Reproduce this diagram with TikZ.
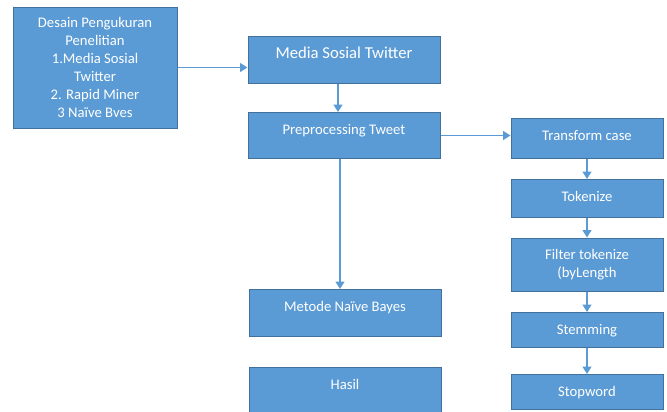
\documentclass[tikz,border=0pt]{standalone}
\usepackage{fontspec}
\setmainfont{Carlito}
\usetikzlibrary{arrows.meta}

\definecolor{boxfill}{HTML}{5B9BD5}
\definecolor{boxline}{HTML}{41719C}

\tikzset{
  box/.style={draw=boxline, line width=0.75pt, fill=boxfill, text=white,
    inner xsep=0pt, inner ysep=0pt, anchor=north, text height=16.5pt,
    font=\fontsize{11}{13.5}\selectfont},
  mbox/.style={draw=boxline, line width=0.75pt, fill=boxfill, text=white,
    inner sep=0pt, align=center, font=\fontsize{11}{13.5}\selectfont},
  flow/.style={draw=boxfill, line width=1.3pt, -{Triangle[length=5.5pt,width=6.5pt]}}
}

\begin{document}
\begin{tikzpicture}[x=0.75pt, y=-0.75pt]

\def\lw{144pt}
\def\rw{114pt}

\path [use as bounding box] (0,0) rectangle (667,411);

% LEFT
\node [mbox, minimum width=123pt, minimum height=90.75pt] (desain) at (95,67.5)
  {Desain Pengukuran\\Penelitian\\1.Media Sosial\\Twitter\\2. Rapid Miner\\3 Naïve Bves};

% MIDDLE
\node [box, minimum width=\lw, text depth=18.75pt, font=\fontsize{12.5}{15}\selectfont] (media) at (344,36) {Media Sosial Twitter};
\node [box, minimum width=\lw, text depth=18pt] (prep) at (344,112) {Preprocessing Tweet};
\node [box, minimum width=\lw, text depth=18.75pt] (metode) at (345,289) {Metode Naïve Bayes};
\node [box, minimum width=\lw, text depth=18.75pt] (hasil) at (345,367) {Hasil};

% RIGHT
\node [box, minimum width=\rw, text depth=13.5pt] (trans) at (587,118) {Transform case};
\node [box, minimum width=\rw, text depth=12pt] (token) at (587,179) {Tokenize};
\node [mbox, minimum width=\rw, minimum height=39.75pt] (filter) at (587,264.5) {Filter tokenize\\(byLength};
\node [box, minimum width=\rw, text depth=9.75pt] (stem) at (587,312) {Stemming};
\node [box, minimum width=\rw, text depth=9.75pt] (stop) at (587,374) {Stopword};

% ARROWS
\draw [flow] (desain.east) -- (desain.east -| media.west);
\draw [flow] ([xshift=-4.5pt]media.south) -- ([xshift=-4.5pt]media.south |- prep.north);
\draw [flow] ([xshift=-3pt]prep.south) -- ([xshift=-3pt]prep.south |- metode.north);
\draw [flow] (prep.east) -- (prep.east -| trans.west);
\draw [flow] (trans) -- (token);
\draw [flow] (token) -- (filter);
\draw [flow] (filter) -- (stem);
\draw [flow] (stem) -- (stop);

\end{tikzpicture}
\end{document}
